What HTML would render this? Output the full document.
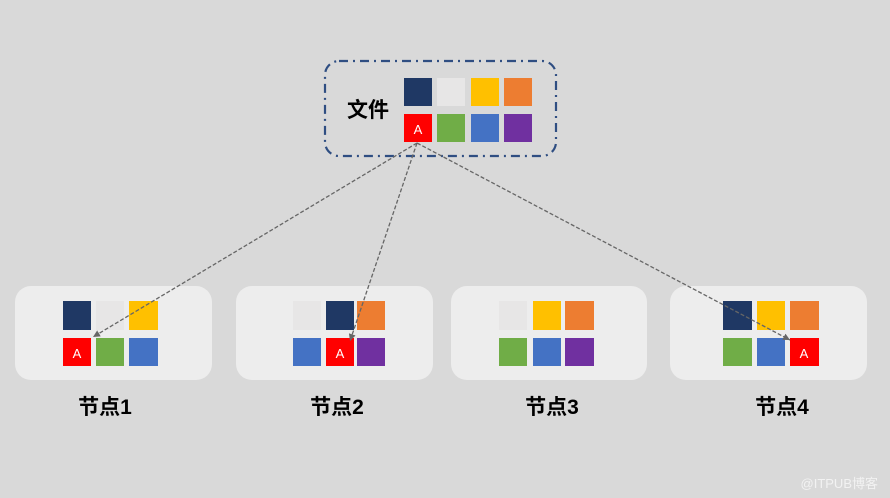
<!DOCTYPE html>
<html><head><meta charset="utf-8"><style>
html,body{margin:0;padding:0;background:#d9d9d9;}
svg{display:block;}
text{font-family:"Liberation Sans","Noto Sans CJK SC",sans-serif;}
</style></head><body>
<svg width="890" height="498" viewBox="0 0 890 498" xmlns="http://www.w3.org/2000/svg">
<defs>
<marker id="ar" markerWidth="8" markerHeight="8" refX="7" refY="4" orient="auto" markerUnits="userSpaceOnUse">
<path d="M0,0.5 L7,4 L0,7.5 Z" fill="#666"/>
</marker>
</defs>
<rect width="890" height="498" fill="#d9d9d9"/>
<!-- top dashed box -->
<rect x="325" y="61" width="231" height="95" rx="14" fill="none" stroke="#2f4e82" stroke-width="2.2" stroke-dasharray="9,5,2,5"/>
<text x="368" y="117" font-size="21" font-weight="bold" text-anchor="middle" fill="#000">文件</text>
<rect x="404" y="78" width="28" height="28" fill="#1f3864"/>
<rect x="437" y="78" width="28" height="28" fill="#e7e6e6"/>
<rect x="471" y="78" width="28" height="28" fill="#ffc000"/>
<rect x="504" y="78" width="28" height="28" fill="#ed7d31"/>
<rect x="404" y="114" width="28" height="28" fill="#ff0000"/>
<text x="418" y="134" font-size="13" fill="#fff" text-anchor="middle">A</text>
<rect x="437" y="114" width="28" height="28" fill="#70ad47"/>
<rect x="471" y="114" width="28" height="28" fill="#4472c4"/>
<rect x="504" y="114" width="28" height="28" fill="#7030a0"/>

<!-- node boxes -->
<rect x="15" y="286" width="197" height="94" rx="16" fill="#ededed"/>
<rect x="236" y="286" width="197" height="94" rx="16" fill="#ededed"/>
<rect x="451" y="286" width="196" height="94" rx="16" fill="#ededed"/>
<rect x="670" y="286" width="197" height="94" rx="16" fill="#ededed"/>

<!-- node1 -->
<rect x="63" y="301" width="28" height="29" fill="#1f3864"/>
<rect x="96" y="301" width="28" height="29" fill="#e7e6e6"/>
<rect x="129" y="301" width="29" height="29" fill="#ffc000"/>
<rect x="63" y="338" width="28" height="28" fill="#ff0000"/>
<text x="77" y="358" font-size="13" fill="#fff" text-anchor="middle">A</text>
<rect x="96" y="338" width="28" height="28" fill="#70ad47"/>
<rect x="129" y="338" width="29" height="28" fill="#4472c4"/>
<!-- node2 -->
<rect x="293" y="301" width="28" height="29" fill="#e7e6e6"/>
<rect x="326" y="301" width="28" height="29" fill="#1f3864"/>
<rect x="357" y="301" width="28" height="29" fill="#ed7d31"/>
<rect x="293" y="338" width="28" height="28" fill="#4472c4"/>
<rect x="326" y="338" width="28" height="28" fill="#ff0000"/>
<text x="340" y="358" font-size="13" fill="#fff" text-anchor="middle">A</text>
<rect x="357" y="338" width="28" height="28" fill="#7030a0"/>
<!-- node3 -->
<rect x="499" y="301" width="28" height="29" fill="#e7e6e6"/>
<rect x="533" y="301" width="28" height="29" fill="#ffc000"/>
<rect x="565" y="301" width="29" height="29" fill="#ed7d31"/>
<rect x="499" y="338" width="28" height="28" fill="#70ad47"/>
<rect x="533" y="338" width="28" height="28" fill="#4472c4"/>
<rect x="565" y="338" width="29" height="28" fill="#7030a0"/>
<!-- node4 -->
<rect x="723" y="301" width="29" height="29" fill="#1f3864"/>
<rect x="757" y="301" width="28" height="29" fill="#ffc000"/>
<rect x="790" y="301" width="29" height="29" fill="#ed7d31"/>
<rect x="723" y="338" width="29" height="28" fill="#70ad47"/>
<rect x="757" y="338" width="28" height="28" fill="#4472c4"/>
<rect x="790" y="338" width="29" height="28" fill="#ff0000"/>
<text x="804" y="358" font-size="13" fill="#fff" text-anchor="middle">A</text>

<!-- connectors -->
<g stroke="#666" stroke-width="1.3" stroke-dasharray="4,2" fill="none">
<line x1="417" y1="143" x2="93" y2="337" marker-end="url(#ar)"/>
<line x1="417" y1="143" x2="350" y2="341" marker-end="url(#ar)"/>
<line x1="417" y1="143" x2="790" y2="340" marker-end="url(#ar)"/>
</g>

<!-- labels -->
<g font-size="21" font-weight="bold" fill="#000" text-anchor="middle">
<text x="105" y="414">节点1</text>
<text x="337" y="414">节点2</text>
<text x="552" y="414">节点3</text>
<text x="782" y="414">节点4</text>
</g>
<text x="878" y="488" font-size="13" fill="#f2f2f2" text-anchor="end">@ITPUB博客</text>
</svg>
</body></html>
